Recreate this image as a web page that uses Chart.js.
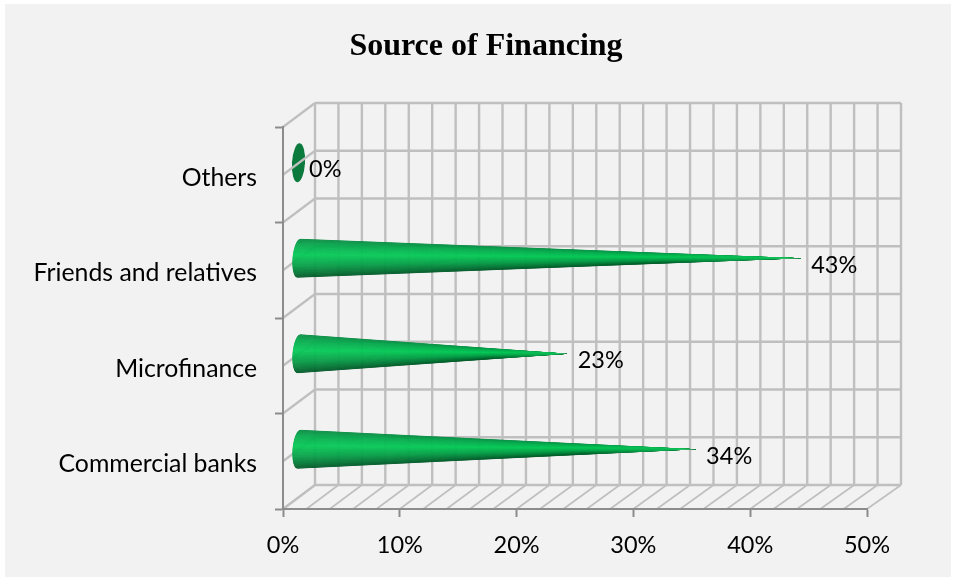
<!DOCTYPE html>
<html>
<head>
<meta charset="utf-8">
<title>Source of Financing</title>
<script src="https://cdn.jsdelivr.net/npm/chart.js@4"></script>
<style>
    html, body { margin: 0; padding: 0; background: #fff; }
    canvas { display: block; }
</style>
</head>
<body>
<canvas id="financing-chart" width="955" height="579"></canvas>
<script>
const categories = ['Others', 'Friends and relatives', 'Microfinance', 'Commercial banks'];
const shares = [0, 43, 23, 34];
const axisMax = 50;
const axisStep = 10;
const wallStep = 2;

const LABEL_FONT = 'Lato, "Open Sans", sans-serif';
const AXIS_COLOR = '#8c8c8c';
const GRID_COLOR = '#bfbfbf';
const FLOOR_COLOR = '#bfbfbf';
const DEPTH_X = 32;
const DEPTH_Y = -24;
const CONE_STOPS = [
    [0, [10, 140, 68]],
    [0.15, [10, 170, 80]],
    [0.42, [10, 204, 90]],
    [0.7, [10, 160, 74]],
    [0.9, [7, 116, 54]],
    [1, [5, 90, 42]]
];

const shadeAt = (t) => {
    for (let i = 1; i < CONE_STOPS.length; i++) {
        const [t0, c0] = CONE_STOPS[i - 1];
        const [t1, c1] = CONE_STOPS[i];
        if (t <= t1) {
            const k = (t - t0) / (t1 - t0);
            return `rgb(${c0.map((c, j) => Math.round(c + (c1[j] - c) * k)).join(',')})`;
        }
    }
    return '#05602c';
};

// back wall is a touch wider than the front axis
const backX = (scale, v) => scale.getPixelForValue(v) + DEPTH_X + 2 * v / axisMax;

const line = (ctx, x1, y1, x2, y2, color, width) => {
    ctx.beginPath();
    ctx.moveTo(x1, y1);
    ctx.lineTo(x2, y2);
    ctx.strokeStyle = color;
    ctx.lineWidth = width;
    ctx.stroke();
};

const coneGeometry = (bar) => {
    const cx = bar.base + DEPTH_X / 2 - 0.5;
    const cy = bar.y + DEPTH_Y / 2;
    return { cx, cy, tip: bar.x + DEPTH_X / 2, ry: bar.height / 2, rx: 6.5 };
};

const drawFlatBase = (ctx, bar) => {
    const { cx, cy, ry, rx } = coneGeometry(bar);
    ctx.beginPath();
    ctx.ellipse(cx, cy, rx, ry, 0.06, 0, Math.PI * 2);
    ctx.fillStyle = '#0b7a3c';
    ctx.fill();
};

// cone is a fan of thin triangles from the tip, so the shading converges on it
const drawCone = (ctx, bar) => {
    const { cx, cy, tip, ry, rx } = coneGeometry(bar);
    const strips = 60;
    const rimPoint = (t) => {
        const u = t * 2 - 1;
        return [cx - rx * Math.sqrt(Math.max(0, 1 - u * u)) - u * 1.5, cy + ry * u];
    };

    ctx.save();
    ctx.beginPath();
    ctx.moveTo(tip, cy);
    for (let i = 0; i <= strips; i++) ctx.lineTo(...rimPoint(i / strips));
    ctx.closePath();
    ctx.clip();

    for (let i = 0; i < strips; i++) {
        const [x1, y1] = rimPoint(i / strips);
        const [x2, y2] = rimPoint((i + 1) / strips);
        const color = shadeAt((i + 0.5) / strips);
        ctx.beginPath();
        ctx.moveTo(tip, cy);
        ctx.lineTo(x1, y1);
        ctx.lineTo(x2, y2);
        ctx.closePath();
        ctx.fillStyle = color;
        ctx.strokeStyle = color;
        ctx.lineWidth = 0.4;
        ctx.fill();
        ctx.stroke();
    }

    // only the last stretch washes out, the point itself is pale
    const wash = ctx.createLinearGradient(cx, 0, tip, 0);
    wash.addColorStop(0.72, 'rgba(12, 190, 86, 0)');
    wash.addColorStop(0.95, 'rgba(12, 190, 86, 1)');
    wash.addColorStop(1, 'rgba(120, 225, 165, 1)');
    ctx.fillStyle = wash;
    ctx.fillRect(cx - rx - 2, cy - ry - 2, tip - cx + rx + 4, ry * 2 + 4);
    ctx.restore();
};

const wallsPlugin = {
    id: 'walls',
    beforeDraw(chart) {
        const { ctx, scales: { x, y } } = chart;
        const bars = chart.getDatasetMeta(0).data;

        ctx.save();
        ctx.fillStyle = '#f2f2f2';
        ctx.fillRect(5, 4, 946, 573);

        // empty categories sit behind the wall lines
        bars.forEach((bar, i) => {
            if (shares[i] === 0) drawFlatBase(ctx, bar);
        });

        const front = y.getPixelForValue(categories.length - 0.5);
        const frontTop = y.getPixelForValue(-0.5);

        for (let v = 0; v <= axisMax; v += wallStep) {
            const bx = backX(x, v);
            line(ctx, x.getPixelForValue(v), front, bx, front + DEPTH_Y, FLOOR_COLOR, 1.6);
            line(ctx, bx, frontTop + DEPTH_Y, bx, front + DEPTH_Y, GRID_COLOR, 2.4);
        }
        for (let i = -0.5; i <= categories.length - 0.5; i += 0.5) {
            const py = y.getPixelForValue(i);
            line(ctx, x.left, py, backX(x, 0), py + DEPTH_Y, GRID_COLOR, 2.2);
            line(ctx, backX(x, 0), py + DEPTH_Y, backX(x, axisMax), py + DEPTH_Y, GRID_COLOR, 2.4);
        }
        ctx.restore();
    },
    afterDatasetsDraw(chart) {
        const { ctx } = chart;
        ctx.save();
        chart.getDatasetMeta(0).data.forEach((bar, i) => {
            if (shares[i] > 0) drawCone(ctx, bar);
            const { tip, cy } = coneGeometry(bar);
            ctx.fillStyle = '#000';
            ctx.font = `23.5px ${LABEL_FONT}`;
            ctx.textAlign = 'left';
            ctx.textBaseline = 'middle';
            ctx.fillText(`${shares[i]}%`, tip + 10, cy + 7);
        });
        ctx.restore();
    }
};

new Chart(document.getElementById('financing-chart'), {
    type: 'bar',
    data: {
        labels: categories,
        datasets: [{
            label: 'Source of Financing',
            data: shares,
            backgroundColor: 'transparent',
            borderWidth: 0,
            barPercentage: 0.408,
            categoryPercentage: 1
        }]
    },
    options: {
        indexAxis: 'y',
        responsive: false,
        animation: false,
        layout: { padding: { left: 17, right: 0, top: 0, bottom: 0 } },
        scales: {
            x: {
                min: 0,
                max: axisMax,
                afterFit: (scale) => { scale.height = 70; },
                border: { color: AXIS_COLOR, width: 2 },
                grid: { drawOnChartArea: false, tickLength: 8, tickColor: AXIS_COLOR, tickWidth: 2 },
                ticks: {
                    stepSize: axisStep,
                    padding: 14,
                    maxRotation: 0,
                    color: '#000',
                    font: { family: LABEL_FONT, size: 23.5 },
                    callback: (v) => `${v}%`
                }
            },
            y: {
                afterFit: (scale) => { scale.width = 266; },
                border: { color: AXIS_COLOR, width: 2 },
                grid: { drawOnChartArea: false, tickLength: 8, tickColor: AXIS_COLOR, tickWidth: 2 },
                ticks: {
                    padding: 18,
                    labelOffset: 3,
                    color: '#000',
                    font: { family: LABEL_FONT, size: 24.8 }
                }
            },
            // empty axis that keeps the margin right of the plot
            margin: {
                axis: 'y',
                position: 'right',
                afterFit: (scale) => { scale.width = 88; },
                border: { display: false },
                grid: { display: false },
                ticks: { display: false }
            }
        },
        plugins: {
            legend: { display: false },
            tooltip: { enabled: false },
            title: {
                display: true,
                text: 'Source of Financing',
                color: '#000',
                font: { family: '"Liberation Serif", serif', size: 32, weight: 'bold', lineHeight: 1.2 },
                padding: { top: 28, bottom: 60.6 }
            }
        }
    },
    plugins: [wallsPlugin]
});
</script>
</body>
</html>
